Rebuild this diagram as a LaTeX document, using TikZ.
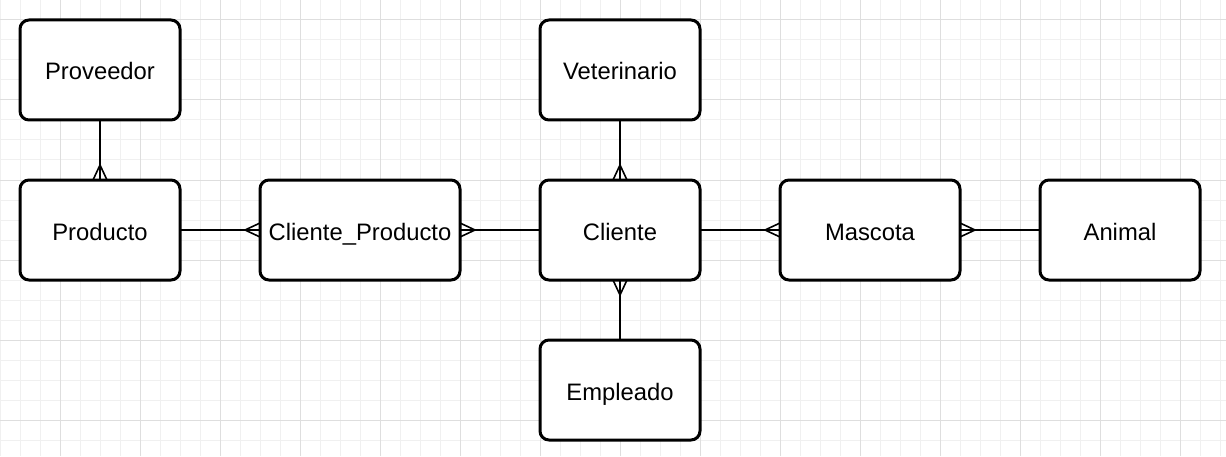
\documentclass[tikz,border=0pt]{standalone}
\usepackage{fontspec}
\setmainfont{Liberation Sans}
\usetikzlibrary{calc}
\begin{document}
\begin{tikzpicture}[x=1pt,y=1pt,
  entity/.style={draw=black,line width=3pt,rounded corners=9pt,fill=white,
    minimum height=100pt,inner sep=0pt,outer sep=0pt,
    text height=21pt,text depth=1pt,
    font=\fontsize{23.8pt}{28pt}\selectfont},
  conn/.style={draw=black,line width=1.6pt},
  minorgrid/.style={draw={rgb,255:red,240;green,240;blue,240},line width=1pt},
  majorgrid/.style={draw={rgb,255:red,222;green,222;blue,222},line width=1pt}]
\useasboundingbox (0,0) rectangle (1226,456);
\fill[white] (0,0) rectangle (1226,456);
% grid
\foreach \i in {0,20,...,1220} \draw[minorgrid] (\i,0) -- (\i,456);
\foreach \j in {0,20,...,440} \draw[minorgrid] (0,456-\j) -- (1226,456-\j);
\foreach \i in {60,140,...,1220} \draw[majorgrid] (\i,0) -- (\i,456);
\foreach \j in {20,100,...,440} \draw[majorgrid] (0,456-\j) -- (1226,456-\j);
% entities
\node[entity,minimum width=160pt] (prov) at (100,386) {Proveedor};
\node[entity,minimum width=160pt] (prod) at (100,226) {Producto};
\node[entity,minimum width=200pt] (cp) at (360,226) {Cliente\_Producto};
\node[entity,minimum width=160pt] (cli) at (620,226) {Cliente};
\node[entity,minimum width=160pt] (vet) at (620,386) {Veterinario};
\node[entity,minimum width=160pt] (emp) at (620,66) {Empleado};
\node[entity,minimum width=180pt] (masc) at (870,226) {Mascota};
\node[entity,minimum width=160pt] (ani) at (1120,226) {Animal};
% connectors
\draw[conn] (prov.south) -- (prod.north);
\draw[conn] ($(prod.north)+(-7,0)$) -- ($(prod.north)+(0,15)$) -- ($(prod.north)+(7,0)$);
\draw[conn] (prod.east) -- (cp.west);
\draw[conn] ($(cp.west)+(0,7)$) -- ($(cp.west)+(-15,0)$) -- ($(cp.west)+(0,-7)$);
\draw[conn] (cp.east) -- (cli.west);
\draw[conn] ($(cp.east)+(0,7)$) -- ($(cp.east)+(15,0)$) -- ($(cp.east)+(0,-7)$);
\draw[conn] (vet.south) -- (cli.north);
\draw[conn] ($(cli.north)+(-7,0)$) -- ($(cli.north)+(0,15)$) -- ($(cli.north)+(7,0)$);
\draw[conn] (emp.north) -- (cli.south);
\draw[conn] ($(cli.south)+(-7,0)$) -- ($(cli.south)+(0,-15)$) -- ($(cli.south)+(7,0)$);
\draw[conn] (cli.east) -- (masc.west);
\draw[conn] ($(masc.west)+(0,7)$) -- ($(masc.west)+(-15,0)$) -- ($(masc.west)+(0,-7)$);
\draw[conn] (ani.west) -- (masc.east);
\draw[conn] ($(masc.east)+(0,7)$) -- ($(masc.east)+(15,0)$) -- ($(masc.east)+(0,-7)$);
\end{tikzpicture}
\end{document}
